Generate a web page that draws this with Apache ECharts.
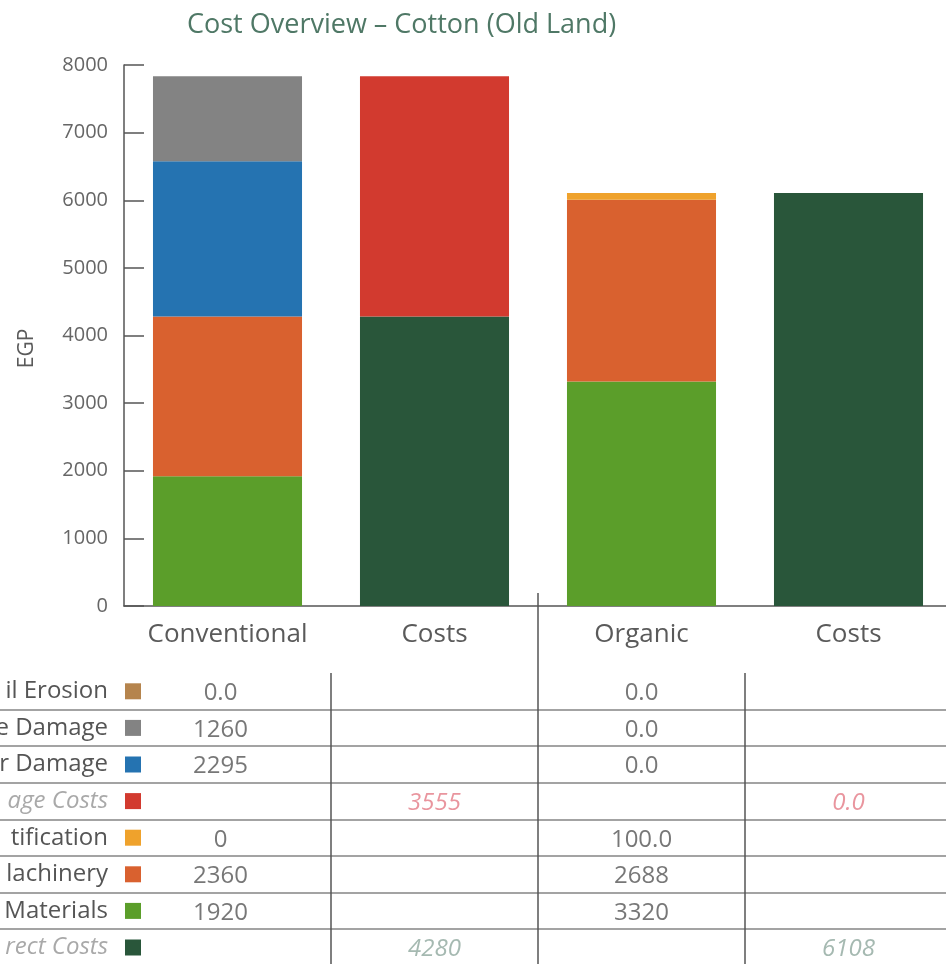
<!DOCTYPE html>
<html><head><meta charset="utf-8">
<script src="https://cdn.jsdelivr.net/npm/echarts@6/dist/echarts.min.js"></script>
<style>html,body{margin:0;padding:0;background:#fff}#c{width:946px;height:964px}</style>
</head><body><div id="c"></div>
<script>
// ---- data ----
const categories = ['Conventional', 'Costs', 'Organic', 'Costs'];
const yMin = 0, yMax = 8000, yStep = 1000;

const directCosts   = [null, 4280, null, 6108];
const materials     = [1920, null, 3320, null];
const machinery     = [2360, null, 2688, null];
const certification = [0, null, 100, null];
const blueDamage    = [2295, null, 0, null];
const greyDamage    = [1260, null, 0, null];
const soilErosion   = [0, null, 0, null];
const damageCosts   = [null, 3555, null, 0];

const rowLabels = ['il Erosion', 'e Damage', 'r Damage', 'age Costs', 'tification', 'lachinery', 'Materials', 'rect Costs'];
const rowColors = ['#b5844d', '#838383', '#2573b1', '#d23a2f', '#efa22c', '#d9612f', '#5b9e2a', '#29563a'];
const tableText = [
  ['0.0', '', '0.0', ''],
  ['1260', '', '0.0', ''],
  ['2295', '', '0.0', ''],
  ['', '3555', '', '0.0'],
  ['0', '', '100.0', ''],
  ['2360', '', '2688', ''],
  ['1920', '', '3320', ''],
  ['', '4280', '', '6108']
];
const title = 'Cost Overview \u2013 Cotton (Old Land)';
const yName = 'EGP';

// ---- chart ----
const FONT = '"Open Sans", sans-serif';
const chart = echarts.init(document.getElementById('c'), null, {renderer: 'canvas'});

const stackSeries = [
  ['Direct Costs', directCosts, rowColors[7]],
  ['Materials', materials, rowColors[6]],
  ['Machinery', machinery, rowColors[5]],
  ['Certification', certification, rowColors[4]],
  ['Water Damage', blueDamage, rowColors[2]],
  ['Grey Damage', greyDamage, rowColors[1]],
  ['Soil Erosion', soilErosion, rowColors[0]],
  ['Damage Costs', damageCosts, rowColors[3]]
].map(([name, data, color]) => ({
  name, type: 'bar', stack: 'total', data, barWidth: '72%',
  xAxisIndex: 0, yAxisIndex: 0,
  itemStyle: {color}, emphasis: {disabled: true}
}));

const rich = {g: {width: 17}};
rowLabels.forEach((r, i) => {
  const italic = (i === 3 || i === 7);
  rich['t' + i] = {fontFamily: FONT, fontSize: 24, color: italic ? '#a9a9a9' : '#555',
    fontStyle: italic ? 'italic' : 'normal'};
  rich['s' + i] = {backgroundColor: rowColors[i], width: 16, height: 16};
});

function cells(firstCol) {
  const out = [];
  tableText.forEach((row, r) => row.forEach((txt, c) => {
    if (txt === '' || (c === 0) !== firstCol) return;
    let color = '#555', fontStyle = 'normal';
    if (r === 3) { color = '#e37a86'; fontStyle = 'italic'; }
    if (r === 7) { color = '#8fa89e'; fontStyle = 'italic'; }
    out.push({value: [c, r], name: txt, label: {color, fontStyle}});
  }));
  return out;
}
const cellSeries = [true, false].map(first => ({
  type: 'scatter', xAxisIndex: 1, yAxisIndex: 1, symbolSize: 0, data: cells(first), silent: true,
  label: {show: true, position: 'inside', formatter: (p) => p.name, offset: [first ? -7 : 0, 2],
    fontFamily: FONT, fontSize: 24}
}));

const boundaries = categories.slice(1).map((_, i) => [i + 1, 0]);
const tableTop = 673, rowH = 36.6;

chart.setOption({
  animation: false,
  backgroundColor: '#fff',
  title: {text: title, left: 182, top: 7,
    textStyle: {fontFamily: FONT, fontSize: 27, fontWeight: 'normal', color: '#4f7866'}},
  grid: [
    {left: 124, top: 65, width: 828, height: 541, outerBoundsMode: 'none', containLabel: false},
    {left: 124, top: tableTop, width: 828, height: rowH * 8, outerBoundsMode: 'none', containLabel: false},
    {left: 0, top: tableTop, width: 124, height: rowH * 8, outerBoundsMode: 'none', containLabel: false}
  ],
  xAxis: [
    {gridIndex: 0, type: 'category', data: categories,
      axisLine: {lineStyle: {color: '#555', width: 1.5}},
      axisTick: {inside: true, interval: 0, length: 13, lineStyle: {color: '#555', width: 1.5}},
      axisLabel: {fontFamily: FONT, fontSize: 26, color: '#5a5a5a', margin: 16, interval: 0}},
    {gridIndex: 1, type: 'category', data: categories, show: false},
    {gridIndex: 2, type: 'category', data: ['x'], show: false}
  ],
  yAxis: [
    {gridIndex: 0, type: 'value', min: yMin, max: yMax, interval: yStep,
      name: yName, nameLocation: 'middle', nameGap: 86,
      nameTextStyle: {fontFamily: FONT, fontSize: 21, color: '#5a5a5a', padding: [0, 26, 0, 0]},
      axisLine: {show: true, lineStyle: {color: '#555', width: 1.5}},
      axisTick: {show: true, inside: true, length: 20, lineStyle: {color: '#555', width: 1.5}},
      axisLabel: {fontFamily: FONT, fontSize: 20, color: '#666', margin: 16, formatter: (v) => String(v)},
      splitLine: {show: false}},
    {gridIndex: 1, type: 'category', data: rowLabels, inverse: true,
      axisLine: {show: false}, axisTick: {show: false},
      axisLabel: {margin: -17, interval: 0, formatter: (v, i) => `{t${i}|${v}}{g|}{s${i}|}`, rich},
      splitLine: {show: true, interval: (i) => i !== 0, lineStyle: {color: '#a3a3a3', width: 2}}},
    {gridIndex: 2, type: 'category', data: rowLabels, inverse: true,
      axisLine: {show: false}, axisTick: {show: false}, axisLabel: {show: false},
      splitLine: {show: true, interval: (i) => i !== 0, lineStyle: {color: '#a3a3a3', width: 2}}}
  ],
  series: [
    ...stackSeries,
    ...cellSeries,
    {type: 'custom', xAxisIndex: 1, yAxisIndex: 1, data: boundaries, silent: true, clip: false,
      encode: {x: 0, y: 1},
      renderItem: (params, api) => {
        const c = api.coord([api.value(0), 0]);
        const sz = api.size([1, 1]);
        const x = c[0] - sz[0] / 2;
        const yTop = c[1] - sz[1] / 2;
        return {type: 'line', shape: {x1: x, y1: yTop, x2: x, y2: yTop + sz[1] * rowLabels.length},
          style: {stroke: '#555', lineWidth: 1.5}};
      }}
  ]
});

// divider between the two groups, running from the axis down into the table
const xa = chart.convertToPixel({xAxisIndex: 0}, 1);
const xb = chart.convertToPixel({xAxisIndex: 0}, 2);
const yZero = chart.convertToPixel({yAxisIndex: 0}, 0);
chart.setOption({graphic: [{type: 'line', shape: {x1: (xa + xb) / 2, y1: yZero - 13, x2: (xa + xb) / 2, y2: tableTop},
  style: {stroke: '#555', lineWidth: 1.5}}]});
</script></body></html>
